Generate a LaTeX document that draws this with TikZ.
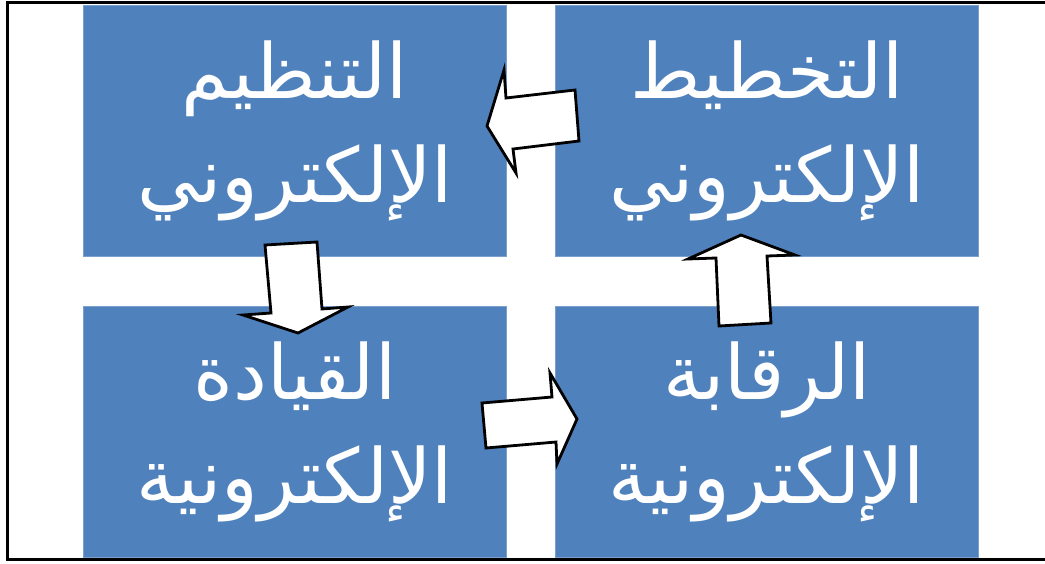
\documentclass[tikz,border=0pt]{standalone}
\usepackage{fontspec}
\newfontfamily\arabicfont[Script=Arabic]{DejaVu Sans}
\TeXXeTstate=1
\definecolor{boxblue}{HTML}{4F81BD}
\begin{document}
\begin{tikzpicture}[x=1pt,y=-1pt,
  box/.style={fill=boxblue, draw=boxblue!75!white, line width=0.8pt, minimum width=423pt, minimum height=251pt, inner sep=0pt, anchor=north west, text=white, font=\arabicfont\fontsize{76}{104}\selectfont, align=center},
  blockarrow/.style={draw=black, fill=white, line width=2.8pt, line join=miter},
  frame/.style={draw=black, line width=3pt}]
\useasboundingbox (0,0) rectangle (1045,563);
\draw[frame] (1046,2) -- (7,2) -- (7,559) -- (1046,559);
\node[box] (org) at (83,5) {\beginR التنظيم\endR\\\beginR الإلكتروني\endR};
\node[box] (plan) at (555,5) {\beginR التخطيط\endR\\\beginR الإلكتروني\endR};
\node[box] (lead) at (83,306) {\beginR القيادة\endR\\\beginR الإلكترونية\endR};
\node[box] (ctrl) at (555,306) {\beginR الرقابة\endR\\\beginR الإلكترونية\endR};
% block arrows
\draw[blockarrow] (575,90) -- (579,141) -- (513,149) -- (516,173) -- (487,126) -- (504,70) -- (506,98) -- cycle;
\draw[blockarrow] (265,245) -- (317,242) -- (322,309) -- (348,307) -- (298,333) -- (243,315) -- (271,313) -- cycle;
\draw[blockarrow] (482,403) -- (552,397) -- (550,373) -- (577,419) -- (557,464) -- (556,442) -- (486,448) -- cycle;
\draw[blockarrow] (741,235) -- (795,255) -- (767,256) -- (771,323) -- (719,326) -- (716,258) -- (688,259) -- cycle;
\end{tikzpicture}
\end{document}
